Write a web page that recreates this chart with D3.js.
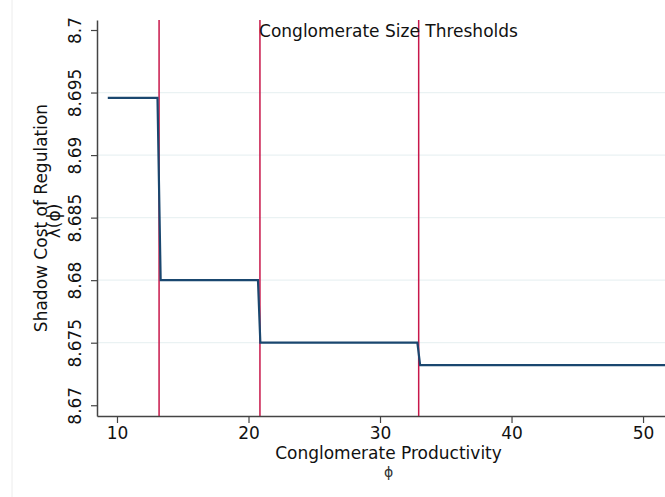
<!DOCTYPE html>
<html lang="en">
	<head>
		<meta charset="utf-8">
		<title>Shadow cost</title>
		<script type="text/javascript" src="https://cdn.jsdelivr.net/npm/d3@7"></script>
		<style type="text/css">
			body { margin: 0; background: #fff; }
			svg text { font-family: 'DejaVu Sans', sans-serif; fill: #111; }
		</style>
	</head>
	<body>
		<script type="text/javascript">
			// step function values
			var phi = [9.3, 13.08, 13.32, 20.72, 20.9, 32.84, 33.05, 52.8];
			var lambda = [8.69458, 8.69458, 8.68, 8.68, 8.675, 8.675, 8.6732, 8.6732];
			var thresholds = [13.2, 20.87, 32.94];
			var xTicks = [10, 20, 30, 40, 50];
			var yTicks = [8.67, 8.675, 8.68, 8.685, 8.69, 8.695, 8.7];

			var w = 665;
			var h = 497;
			var margin = {'left': 97, 'right': 680, 'top': 20, 'bottom': 416};

			var svg = d3.select('body').append('svg').attr('width', w).attr('height', h);

			var xScale = d3.scaleLinear()
						   .domain([8.48, 52.81])
						   .range([margin.left, margin.right]);
			var yScale = d3.scaleLinear()
						   .domain([8.66914, 8.7008])
						   .range([margin.bottom, margin.top]);

			// faint region border on the left
			svg.append('line')
			.attr('x1', 12).attr('x2', 12).attr('y1', 0).attr('y2', h)
			.attr('stroke', '#ececec').attr('stroke-width', 1);

			// grid lines (inner ticks only)
			svg.append('g')
			.selectAll('line')
			.data(yTicks.slice(1, -1))
			.enter().append('line')
			.attr('x1', margin.left).attr('x2', margin.right)
			.attr('y1', function(d) { return yScale(d); })
			.attr('y2', function(d) { return yScale(d); })
			.attr('stroke', '#eaf2f3').attr('stroke-width', 1.2);

			// threshold lines
			svg.append('g')
			.selectAll('line')
			.data(thresholds)
			.enter().append('line')
			.attr('x1', function(d) { return xScale(d); })
			.attr('x2', function(d) { return xScale(d); })
			.attr('y1', margin.top).attr('y2', margin.bottom)
			.attr('stroke', '#c8174a').attr('stroke-width', 1.5);

			var line = d3.line()
						 .x(function(d, i) { return xScale(phi[i]); })
						 .y(function(d) { return yScale(d); });

			svg.append('path')
			.datum(lambda)
			.attr('d', line)
			.attr('fill', 'none')
			.attr('stroke', '#1a476f')
			.attr('stroke-width', 2.2);

			var xAxis = d3.axisBottom().scale(xScale).tickValues(xTicks).tickSize(7).tickPadding(4).tickSizeOuter(0);
			var gx = svg.append('g')
			.attr('transform', 'translate(0,' + margin.bottom + ')')
			.call(xAxis);
			gx.selectAll('text').style('font-size', '17px');

			var yAxis = d3.axisLeft().scale(yScale).tickValues(yTicks).tickSize(6).tickSizeOuter(0)
						  .tickFormat(function(d) { return d3.format('')(+d.toFixed(3)); });
			var gy = svg.append('g')
			.attr('transform', 'translate(' + margin.left + ',0)')
			.call(yAxis);
			gy.selectAll('text')
			.attr('x', null).attr('dy', null)
			.attr('text-anchor', 'middle')
			.attr('transform', 'translate(-16,0) rotate(-90)')
			.style('font-size', '17px');

			svg.selectAll('.domain').attr('stroke', '#444').attr('stroke-width', 1.5);
			svg.selectAll('.tick line').attr('stroke', '#444').attr('stroke-width', 1.2);

			var cx = (margin.left + margin.right) / 2;
			var cy = (margin.top + margin.bottom) / 2;

			svg.append('text')
			.attr('x', cx).attr('y', 37)
			.attr('text-anchor', 'middle')
			.style('font-size', '17px')
			.text('Conglomerate Size Thresholds');

			svg.append('text')
			.attr('x', cx).attr('y', 459)
			.attr('text-anchor', 'middle')
			.style('font-size', '17px')
			.text('Conglomerate Productivity');
			svg.append('text')
			.attr('x', cx).attr('y', 477)
			.attr('text-anchor', 'middle')
			.style('font-size', '14px')
			.style('fill', '#333')
			.text('ϕ');

			svg.append('text')
			.attr('transform', 'translate(47,' + cy + ') rotate(-90)')
			.attr('text-anchor', 'middle')
			.style('font-size', '17px')
			.text('Shadow Cost of Regulation');
			svg.append('text')
			.attr('transform', 'translate(60,' + (cy + 3) + ') rotate(-90)')
			.attr('text-anchor', 'middle')
			.style('font-size', '17px')
			.text('λ(ϕ)');
		</script>
	</body>
</html>
